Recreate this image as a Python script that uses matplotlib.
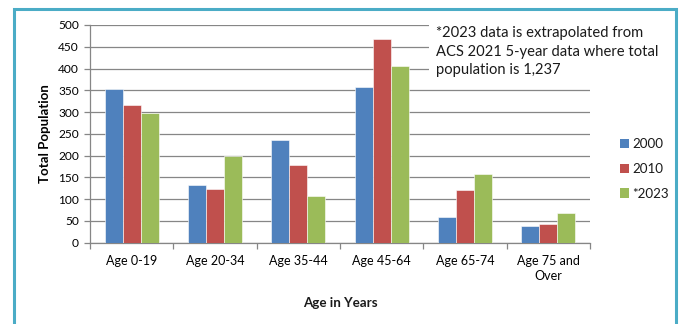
import matplotlib; matplotlib.use("Agg")
import matplotlib.pyplot as plt
from matplotlib.patches import Rectangle, Patch
import numpy as np

plt.rcParams.update({"font.family": ["Lato", "DejaVu Sans"], "text.color": "#1a1a1a"})

groups = ["Age 0-19", "Age 20-34", "Age 35-44", "Age 45-64", "Age 65-74", "Age 75 and\nOver"]
series = ["2000", "2010", "*2023"]
pop_2000 = [352, 133, 237, 357, 59, 39]
pop_2010 = [317, 123, 179, 468, 122, 44]
pop_2023 = [298, 200, 108, 405, 157, 69]
colors = ["#4F81BD", "#C0504D", "#9BBB59"]
note = "*2023 data is extrapolated from\nACS 2021 5-year data where total\npopulation is 1,237"

fig = plt.figure(figsize=(6.81, 3.24), dpi=100)
ax = fig.add_axes([90/681, 1-242.7/324, 500/681, (242.7-25)/324])

x = np.arange(len(groups))
w = 0.216
for k, (vals, c, lab) in enumerate(zip([pop_2000, pop_2010, pop_2023], colors, series)):
    ax.bar(x + (k-1)*w, vals, w, color=c, edgecolor="white", linewidth=0.4, label=lab, zorder=3)

ax.set_xlim(-0.5, len(groups)-0.5)
ax.set_ylim(0, 500)
ax.set_yticks(range(0, 501, 50))
ax.yaxis.grid(True, color="#868686", lw=0.9, zorder=0)
ax.set_xticks(x)
ax.set_xticklabels(groups, fontsize=9, linespacing=1.25)
ax.set_xticks(np.arange(-0.5, len(groups)), minor=True)
ax.tick_params(axis="x", which="major", length=0, pad=9)
ax.tick_params(axis="x", which="minor", length=4, color="#868686", width=0.9)
ax.tick_params(axis="y", length=4, color="#868686", width=0.9, labelsize=8.6, pad=4)
for sp in ("top", "right"):
    ax.spines[sp].set_visible(False)
for sp in ("left", "bottom"):
    ax.spines[sp].set_color("#868686"); ax.spines[sp].set_linewidth(0.9)

ax.set_ylabel("Total Population", fontsize=9.5, fontweight="bold", labelpad=5)
fig.text(340/681, 1-303/324, "Age in Years", ha="center", va="center", fontsize=9.6, fontweight="bold")

# note box masks the top gridlines
fig.text(436/681, 1-26/324, note, ha="left", va="top", fontsize=10.6, linespacing=1.42,
         bbox=dict(boxstyle="square,pad=0.5", fc="white", ec="none"), zorder=5)

handles = [Patch(fc=c, ec="none") for c in colors]
fig.legend(handles, series, loc="center left", bbox_to_anchor=(608/681, 1-169/324), frameon=False,
           fontsize=9.6, handlelength=0.7, handleheight=0.7, handletextpad=0.25, labelspacing=0.95)

fig.patches.append(Rectangle((13.5/681, -0.1), 662.5/681, 1.1 - 9.5/324, transform=fig.transFigure,
                             fill=False, ec="#4BACC6", lw=2.2))

fig.savefig("out.png", dpi=100)
